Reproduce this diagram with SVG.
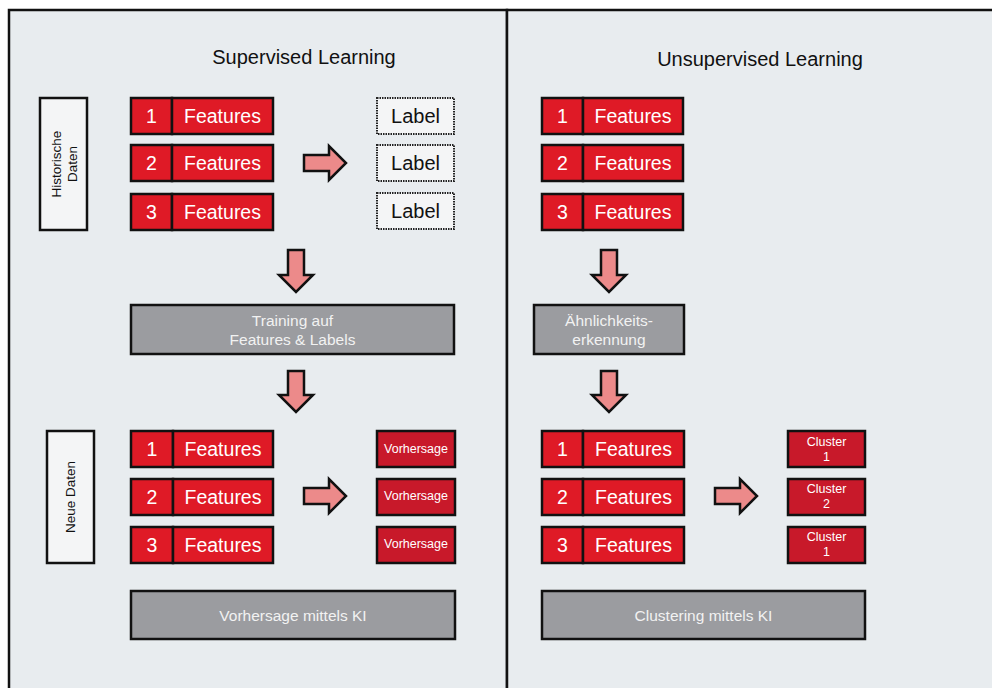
<svg xmlns="http://www.w3.org/2000/svg" width="992" height="688" viewBox="0 0 992 688">
<defs>
<style>
.panel{fill:#E8ECEF;stroke:#111;stroke-width:2.5}
.feat{fill:#DF1A26;stroke:#111;stroke-width:2.5}
.pred{fill:#C8192A;stroke:#111;stroke-width:2.5}
.proc{fill:#9B9CA0;stroke:#111;stroke-width:2.5}
.side{fill:#F4F5F6;stroke:#111;stroke-width:2.5}
.lbl{fill:#F4F5F6;stroke:#222;stroke-width:2;stroke-dasharray:1.5 1}
.arr{fill:#EC8A8A;stroke:#111;stroke-width:2.5;stroke-linejoin:miter}
text{font-family:"Liberation Sans",Arial,sans-serif;text-anchor:middle;dominant-baseline:central}
.t-title{font-size:20px;fill:#111}
.t-feat{font-size:19.5px;fill:#fff}
.t-lbl{font-size:20px;fill:#111}
.t-proc{font-size:15.5px;fill:#F2F2F2}
.t-small{font-size:12.5px;fill:#fff}
.t-side{font-size:13.5px;fill:#111}
</style>
</defs>
<rect x="0" y="0" width="992" height="688" fill="#fff"/>
<rect class="panel" x="9" y="10" width="498" height="690"/>
<rect class="panel" x="507" y="10" width="500" height="690"/>

<g id="title-supervised"><text class="t-title" x="304" y="57">Supervised Learning</text></g>
<g id="title-unsupervised"><text class="t-title" x="760" y="59">Unsupervised Learning</text></g>

<g id="historische-daten">
<rect class="side" x="40" y="98" width="47" height="132"/>
<text class="t-side" transform="translate(63.5 164) rotate(-90)"><tspan x="0" y="-8">Historische</tspan><tspan x="0" y="8">Daten</tspan></text>
</g>
<g id="neue-daten">
<rect class="side" x="47" y="431" width="47" height="132"/>
<text class="t-side" transform="translate(70.5 497) rotate(-90)" x="0" y="0">Neue Daten</text>
</g>

<g id="s-hist-1"><rect class="feat" x="131" y="98" width="41" height="36"/><rect class="feat" x="172" y="98" width="101" height="36"/><text class="t-feat" x="151.5" y="116">1</text><text class="t-feat" x="222.5" y="116">Features</text></g>
<g id="s-hist-2"><rect class="feat" x="131" y="145" width="41" height="36"/><rect class="feat" x="172" y="145" width="101" height="36"/><text class="t-feat" x="151.5" y="163">2</text><text class="t-feat" x="222.5" y="163">Features</text></g>
<g id="s-hist-3"><rect class="feat" x="131" y="194" width="41" height="36"/><rect class="feat" x="172" y="194" width="101" height="36"/><text class="t-feat" x="151.5" y="212">3</text><text class="t-feat" x="222.5" y="212">Features</text></g>

<g id="label-1"><rect class="lbl" x="377" y="98" width="77" height="36"/><text class="t-lbl" x="415.5" y="116">Label</text></g>
<g id="label-2"><rect class="lbl" x="377" y="145" width="77" height="36"/><text class="t-lbl" x="415.5" y="163">Label</text></g>
<g id="label-3"><rect class="lbl" x="377" y="193" width="77" height="36"/><text class="t-lbl" x="415.5" y="211">Label</text></g>

<g id="training"><rect class="proc" x="131" y="305" width="323" height="49"/><text class="t-proc" x="292.5" y="320">Training auf</text><text class="t-proc" x="292.5" y="339">Features &amp; Labels</text></g>

<g id="s-new-1"><rect class="feat" x="131" y="431" width="42" height="36"/><rect class="feat" x="173" y="431" width="100" height="36"/><text class="t-feat" x="152" y="449">1</text><text class="t-feat" x="223" y="449">Features</text></g>
<g id="s-new-2"><rect class="feat" x="131" y="479" width="42" height="36"/><rect class="feat" x="173" y="479" width="100" height="36"/><text class="t-feat" x="152" y="497">2</text><text class="t-feat" x="223" y="497">Features</text></g>
<g id="s-new-3"><rect class="feat" x="131" y="527" width="42" height="36"/><rect class="feat" x="173" y="527" width="100" height="36"/><text class="t-feat" x="152" y="545">3</text><text class="t-feat" x="223" y="545">Features</text></g>

<g id="pred-1"><rect class="pred" x="377" y="431" width="78" height="36"/><text class="t-small" x="416" y="449">Vorhersage</text></g>
<g id="pred-2"><rect class="pred" x="377" y="479" width="78" height="36"/><text class="t-small" x="416" y="496">Vorhersage</text></g>
<g id="pred-3"><rect class="pred" x="377" y="527" width="78" height="36"/><text class="t-small" x="416" y="544">Vorhersage</text></g>

<g id="vorhersage-ki"><rect class="proc" x="131" y="591" width="324" height="48"/><text class="t-proc" x="293" y="615">Vorhersage mittels KI</text></g>

<g id="u-hist-1"><rect class="feat" x="542" y="98" width="41" height="36"/><rect class="feat" x="583" y="98" width="100" height="36"/><text class="t-feat" x="562.5" y="116">1</text><text class="t-feat" x="633" y="116">Features</text></g>
<g id="u-hist-2"><rect class="feat" x="542" y="145" width="41" height="36"/><rect class="feat" x="583" y="145" width="100" height="36"/><text class="t-feat" x="562.5" y="163">2</text><text class="t-feat" x="633" y="163">Features</text></g>
<g id="u-hist-3"><rect class="feat" x="542" y="194" width="41" height="36"/><rect class="feat" x="583" y="194" width="100" height="36"/><text class="t-feat" x="562.5" y="212">3</text><text class="t-feat" x="633" y="212">Features</text></g>

<g id="aehnlichkeit"><rect class="proc" x="534" y="305" width="150" height="49"/><text class="t-proc" x="609" y="320">Ähnlichkeits-</text><text class="t-proc" x="609" y="339">erkennung</text></g>

<g id="u-new-1"><rect class="feat" x="542" y="431" width="41" height="36"/><rect class="feat" x="583" y="431" width="101" height="36"/><text class="t-feat" x="562.5" y="449">1</text><text class="t-feat" x="633.5" y="449">Features</text></g>
<g id="u-new-2"><rect class="feat" x="542" y="479" width="41" height="36"/><rect class="feat" x="583" y="479" width="101" height="36"/><text class="t-feat" x="562.5" y="497">2</text><text class="t-feat" x="633.5" y="497">Features</text></g>
<g id="u-new-3"><rect class="feat" x="542" y="527" width="41" height="36"/><rect class="feat" x="583" y="527" width="101" height="36"/><text class="t-feat" x="562.5" y="545">3</text><text class="t-feat" x="633.5" y="545">Features</text></g>

<g id="cluster-1"><rect class="pred" x="788" y="431" width="77" height="36"/><text class="t-small" x="826.5" y="442">Cluster</text><text class="t-small" x="826.5" y="457">1</text></g>
<g id="cluster-2"><rect class="pred" x="788" y="479" width="77" height="36"/><text class="t-small" x="826.5" y="489">Cluster</text><text class="t-small" x="826.5" y="504">2</text></g>
<g id="cluster-3"><rect class="pred" x="788" y="527" width="77" height="36"/><text class="t-small" x="826.5" y="537">Cluster</text><text class="t-small" x="826.5" y="552">1</text></g>

<g id="clustering-ki"><rect class="proc" x="542" y="591" width="323" height="48"/><text class="t-proc" x="703.5" y="615">Clustering mittels KI</text></g>

<g id="connectors">
<path class="arr" d="M304 155 H329 V146 L346 163 L329 180 V171 H304 Z"/>
<path class="arr" d="M304 488 H329 V479 L346 496 L329 513 V504 H304 Z"/>
<path class="arr" d="M715 488 H740 V479 L757 496 L740 513 V504 H715 Z"/>
<path class="arr" d="M288 250 H304 V275 H313 L296 292 L279 275 H288 Z"/>
<path class="arr" d="M288 371 H304 V395 H313 L296 412 L279 395 H288 Z"/>
<path class="arr" d="M601 250 H617 V275 H626 L609 292 L592 275 H601 Z"/>
<path class="arr" d="M601 371 H617 V395 H626 L609 412 L592 395 H601 Z"/>
</g>
</svg>
